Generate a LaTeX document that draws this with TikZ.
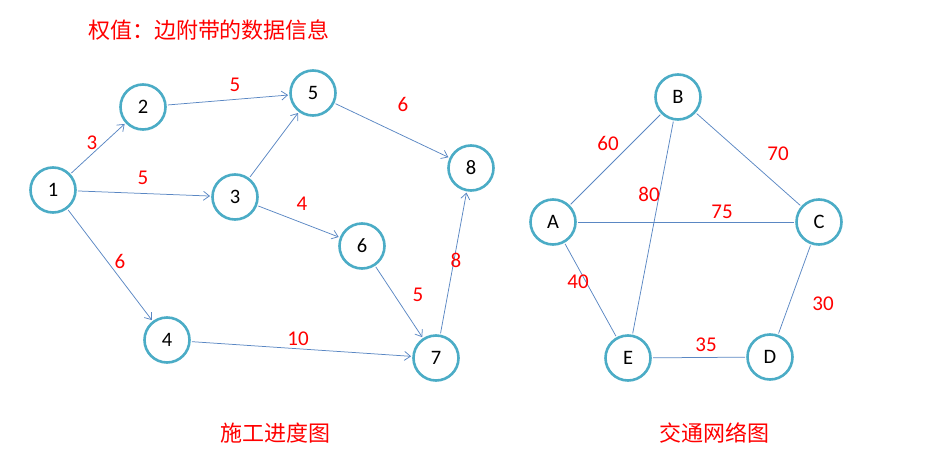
\documentclass[tikz,border=0pt]{standalone}
\usepackage{fontspec}
\setmainfont{Carlito}
\newfontfamily\cjk{Noto Sans CJK SC}
\usetikzlibrary{arrows.meta}
\definecolor{ring}{RGB}{75,172,198}
\definecolor{edgec}{RGB}{90,135,195}
\definecolor{wred}{RGB}{255,0,0}
\begin{document}
\begin{tikzpicture}[x=1pt,y=-1pt,
 vtx/.style={circle,draw=ring,line width=2.6pt,minimum size=45pt,inner sep=0pt,font=\fontsize{20.5}{20.5}\selectfont,fill=white},
 arc/.style={draw=edgec,line width=0.75pt,shorten >=1.2pt,shorten <=1.2pt,-{Straight Barb[length=6pt,width=9pt,line width=0.75pt]}},
 link/.style={draw=edgec,line width=0.75pt,shorten >=1.2pt,shorten <=1.2pt},
 wt/.style={text=wred,font=\fontsize{21}{21}\selectfont},
 captext/.style={text=wred,font=\cjk\fontsize{22}{22}\selectfont}]
\useasboundingbox (0,0) rectangle (935,461);
% title
\node[captext] (title) at (209,30) {权值：边附带的数据信息};
% left graph
\node[vtx] (n1) at (53,190) {1};
\node[vtx] (n2) at (143,107) {2};
\node[vtx] (n3) at (235,197) {3};
\node[vtx] (n4) at (167,340) {4};
\node[vtx] (n5) at (313,93) {5};
\node[vtx] (n6) at (362,246) {6};
\node[vtx] (n7) at (436,358) {7};
\node[vtx] (n8) at (471,168) {8};
\draw[arc] (n1) -- (n2);
\draw[arc] (n1) -- (n3);
\draw[arc] (n1) -- (n4);
\draw[arc] (n2) -- (n5);
\draw[arc] (n3) -- (n5);
\draw[arc] (n3) -- (n6);
\draw[arc] (n5) -- (n8);
\draw[arc] (n6) -- (n7);
\draw[arc] (n4) -- (n7);
\draw[arc] (n7) -- (n8);
\node[wt] (w12) at (92,143) {3};
\node[wt] (w25) at (235,85) {5};
\node[wt] (w13) at (143,178) {5};
\node[wt] (w14) at (120,261) {6};
\node[wt] (w58) at (403,104) {6};
\node[wt] (w36) at (302,204) {4};
\node[wt] (w67) at (418,295) {5};
\node[wt] (w78) at (456,260) {8};
\node[wt] (w47) at (298,339) {10};
\node[captext] (capL) at (275,433) {施工进度图};
% right graph
\node[vtx] (A) at (553,222) {A};
\node[vtx] (B) at (678,97) {B};
\node[vtx] (C) at (819,222) {C};
\node[vtx] (D) at (770,357) {D};
\node[vtx] (E) at (628,358) {E};
\draw[link] (A) -- (B);
\draw[link] (B) -- (C);
\draw[link] (A) -- (C);
\draw[link] (B) -- (E);
\draw[link] (A) -- (E);
\draw[link] (E) -- (D);
\draw[link] (C) -- (D);
\node[wt] (wAB) at (608,143) {60};
\node[wt] (wBE) at (649,194) {80};
\node[wt] (wAC) at (722,212) {75};
\node[wt] (wBC) at (778,154) {70};
\node[wt] (wAE) at (578,282) {40};
\node[wt] (wCD) at (823,304) {30};
\node[wt] (wED) at (706,345) {35};
\node[captext] (capR) at (714,433) {交通网络图};
\end{tikzpicture}
\end{document}
